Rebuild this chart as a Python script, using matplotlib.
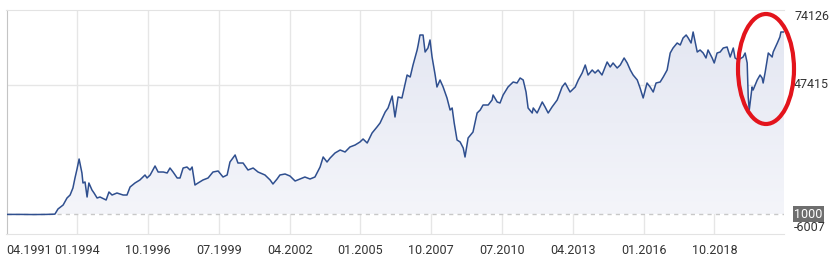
import numpy as np
import matplotlib.pyplot as plt
from matplotlib.patches import Ellipse
import matplotlib.transforms as mtransforms

plt.rcParams['font.family'] = ['Roboto', 'DejaVu Sans']

# index value over time (decimal years)
years = [1991.27, 1991.8, 1992.3, 1992.8, 1993.13, 1993.25, 1993.45, 1993.6, 1993.72, 1993.83,
         1993.91, 1993.99, 1994.07, 1994.18, 1994.22, 1994.3, 1994.38, 1994.45, 1994.57, 1994.65,
         1994.77, 1994.88, 1995.12, 1995.23, 1995.35, 1995.54, 1995.78, 1995.93, 1996.05, 1996.24,
         1996.43, 1996.63, 1996.71, 1996.83, 1997.02, 1997.14, 1997.34, 1997.49, 1997.6, 1997.72,
         1997.88, 1997.99, 1998.11, 1998.26, 1998.38, 1998.46, 1998.57, 1998.69, 1998.88, 1999.08,
         1999.27, 1999.47, 1999.66, 1999.82, 1999.93, 2000.13, 2000.24, 2000.44, 2000.63, 2000.83,
         2001.02, 2001.29, 2001.49, 2001.6, 2001.76, 2001.87, 2002.07, 2002.26, 2002.46, 2002.65,
         2002.84, 2003.04, 2003.23, 2003.43, 2003.55, 2003.7, 2003.82, 2004.01, 2004.21, 2004.4,
         2004.59, 2004.79, 2004.98, 2005.1, 2005.26, 2005.45, 2005.64, 2005.76, 2005.96, 2006.07,
         2006.23, 2006.34, 2006.46, 2006.61, 2006.81, 2006.93, 2007.04, 2007.2, 2007.24, 2007.31,
         2007.43, 2007.51, 2007.62, 2007.7, 2007.78, 2007.9, 2007.97, 2008.09, 2008.21, 2008.36,
         2008.48, 2008.56, 2008.64, 2008.75, 2008.87, 2008.99, 2009.06, 2009.18, 2009.37, 2009.53,
         2009.65, 2009.76, 2009.96, 2010.11, 2010.15, 2010.31, 2010.42, 2010.54, 2010.73, 2010.93,
         2011.08, 2011.2, 2011.32, 2011.43, 2011.51, 2011.67, 2011.71, 2011.86, 2012.06, 2012.17,
         2012.29, 2012.44, 2012.64, 2012.83, 2012.95, 2013.14, 2013.34, 2013.46, 2013.61, 2013.73,
         2013.84, 2014.0, 2014.11, 2014.23, 2014.38, 2014.58, 2014.7, 2014.81, 2014.97, 2015.09,
         2015.24, 2015.36, 2015.48, 2015.59, 2015.75, 2015.86, 2015.98, 2016.06, 2016.13, 2016.25,
         2016.37, 2016.48, 2016.64, 2016.76, 2016.91, 2017.03, 2017.14, 2017.3, 2017.42, 2017.53,
         2017.65, 2017.73, 2017.84, 2017.92, 2018.08, 2018.19, 2018.31, 2018.42, 2018.5, 2018.66,
         2018.74, 2018.85, 2018.97, 2019.09, 2019.24, 2019.36, 2019.48, 2019.55, 2019.67, 2019.86,
         2019.94, 2020.02, 2020.06, 2020.1, 2020.21, 2020.25, 2020.41, 2020.52, 2020.6, 2020.64,
         2020.72, 2020.84, 2020.99, 2021.03, 2021.19, 2021.29, 2021.33, 2021.45]
values = [1000, 1000, 950, 1000, 1100, 2940, 4370, 6870, 7940, 10450,
          14030, 17250, 20820, 15820, 12240, 12600, 7230, 12240, 9730, 8660,
          6870, 7230, 6160, 9020, 7940, 8660, 7940, 7940, 10810, 12240,
          13310, 15100, 14030, 15100, 18320, 16170, 16170, 15820, 17600, 16170,
          14030, 14030, 17600, 17960, 16890, 17960, 11520, 12240, 13310, 14030,
          16170, 16530, 14380, 15100, 19750, 22260, 19390, 19390, 16890, 17600,
          16170, 15100, 13310, 11880, 13670, 15100, 15460, 14740, 12950, 13670,
          14380, 13670, 14380, 17960, 21540, 19750, 21180, 22970, 24040, 23330,
          25120, 25830, 26910, 27980, 26550, 30130, 32270, 33700, 37640, 39070,
          43360, 35850, 43000, 42650, 50870, 50160, 54450, 59820, 61610, 65180,
          65180, 59100, 60530, 63400, 57310, 50870, 46580, 49090, 46580, 42650,
          38350, 39070, 33700, 27620, 26910, 24760, 21540, 28340, 30480, 37280,
          38350, 40140, 40140, 41930, 43720, 41220, 40860, 43720, 46580, 48370,
          48010, 49800, 49090, 44790, 39070, 37280, 39070, 37280, 41220, 39430,
          37280, 39430, 41930, 46580, 48010, 44790, 46580, 49090, 51590, 54450,
          50870, 52660, 51590, 52660, 50870, 55520, 53740, 55170, 53380, 54450,
          56960, 55170, 52660, 50870, 49090, 46220, 42650, 45510, 48010, 46580,
          44790, 48010, 48370, 50160, 52660, 58740, 60530, 62320, 61610, 64110,
          65180, 64110, 62320, 66260, 59100, 59820, 58740, 56960, 59820, 56960,
          55170, 58740, 59100, 60530, 60890, 57310, 60530, 56960, 56240, 57310,
          58740, 55170, 43000, 38350, 46580, 45510, 49090, 50870, 49800, 48010,
          51950, 58740, 57310, 59100, 62320, 64470, 66260, 66260]

tick_pos = [1991.25, 1994.0, 1996.75, 1999.5, 2002.25, 2005.0, 2007.75, 2010.5, 2013.25, 2016.0, 2018.75]
tick_labels = ['04.1991', '01.1994', '10.1996', '07.1999', '04.2002', '01.2005',
               '10.2007', '07.2010', '04.2013', '01.2016', '10.2018']
y_min, y_mid, y_max = -6007, 47415, 74126
base = 1000

W, H = 838, 257
fig = plt.figure(figsize=(W / 100, H / 100), dpi=100)
ax = fig.add_axes([6.5 / W, 23 / H, 777.5 / W, 224 / H])
x0, x1 = 1991.25, 2021.45
ax.set_xlim(x0, x1)
ax.set_ylim(y_min, y_max)

# soft gradient fill under the line, down to the base value
fill = ax.fill_between(years, values, base, color='none', lw=0)
grad = np.linspace(0, 1, 256).reshape(-1, 1)
img = ax.imshow(grad, extent=[x0, x1, base, max(values)], origin='lower', aspect='auto',
                cmap=plt.matplotlib.colors.LinearSegmentedColormap.from_list('g', ['#f4f5fa', '#e4e7f2']),
                zorder=1)
img.set_clip_path(fill.get_paths()[0], transform=ax.transData)

ax.plot(years, values, color='#2f4f8f', lw=1.1, zorder=3)
ax.axhline(base, color='#c8c8c8', lw=1, ls=(0, (3, 3)), zorder=2)
ax.axhline(y_mid, color='#e6e6e6', lw=1, zorder=0)
for t in tick_pos[1:]:
    ax.axvline(t, color='#e6e6e6', lw=1, zorder=0)

for s in ['top', 'bottom']:
    ax.spines[s].set_color('#e3e3e3')
ax.spines['right'].set_visible(False)
ax.spines['left'].set_color('#c4c4c4')

ax.set_yticks([])
ax.set_xticks(tick_pos)
ax.set_xticklabels(tick_labels, fontsize=9, color='#333333')
ax.tick_params(axis='x', length=0, pad=7.5)
ax.get_xticklabels()[0].set_horizontalalignment('left')

# value labels on the right
tr = mtransforms.blended_transform_factory(fig.transFigure, ax.transData)
xl = 794 / W
ax.text(xl, y_max, '74126', transform=tr, fontsize=9, color='#333333', va='top', ha='left')
ax.text(xl, y_mid, '47415', transform=tr, fontsize=9, color='#333333', va='center', ha='left')
ax.text(xl, y_min, '-6007', transform=tr, fontsize=9, color='#333333', va='bottom', ha='left')
ax.text(xl, base, '1000', transform=tr, fontsize=9, color='white', va='center', ha='left',
        bbox=dict(boxstyle='square,pad=0.12', fc='#6e6e6e', ec='none'))

# red highlight ellipse
fig.patches.append(Ellipse((766 / W, 1 - 69 / H), 56 / W, 110 / H, transform=fig.transFigure,
                           fill=False, ec='#e3141c', lw=3))

plt.savefig('out.png', dpi=100)
